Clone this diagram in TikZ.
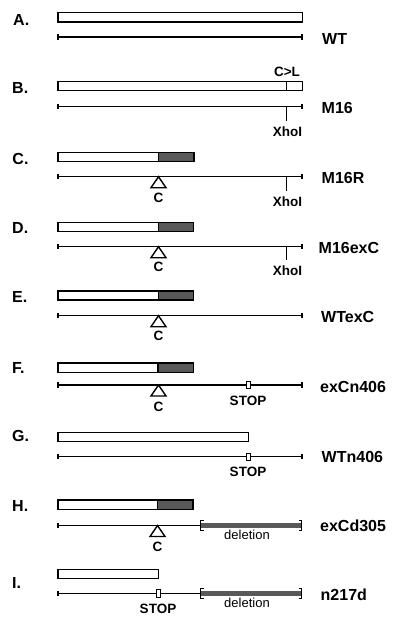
\documentclass[tikz,border=0pt]{standalone}
\usepackage{fontspec}
\setmainfont{Liberation Sans}
\begin{document}
\begin{tikzpicture}[x=1pt,y=-1pt,
  rowlab/.style={font=\bfseries\fontsize{16}{16}\selectfont,anchor=west,inner sep=0pt},
  namelab/.style={font=\bfseries\fontsize{16}{16}\selectfont,anchor=west,inner sep=0pt},
  smalllab/.style={font=\bfseries\fontsize{13.5}{13.5}\selectfont,inner sep=0pt},
  dellab/.style={font=\fontsize{13}{13}\selectfont,inner sep=0pt},
  boxline/.style={draw=black,line width=1.5pt},
  shade/.style={fill=black!65},
  seqline/.style={draw=black,line width=1.2pt},
  tri/.style={draw=black,line width=1.4pt,fill=white,line join=miter},
  stopbox/.style={draw=black,line width=1pt,fill=white},
  brk/.style={draw=black,line width=1.3pt}]
\useasboundingbox (0,0) rectangle (400,623);
\fill[white] (0,0) rectangle (400,623);

% ---------- A ----------
\node[rowlab] (la) at (13,20) {A.};
\draw[boxline,fill=white] (58,12.7) rectangle (302.3,22);
\draw[seqline] (58,37) -- (302,37);
\draw[seqline] (58,34.3) -- (58,39.7) (302,34.3) -- (302,39.7);
\node[namelab] (na) at (322,39) {WT};

% ---------- B ----------
\node[rowlab] (lb) at (12,88) {B.};
\node[smalllab] (cl) at (287,72) {C>L};
\draw[boxline,fill=white] (58,81.7) rectangle (302.3,90.7);
\draw[boxline] (286.7,81.7) -- (286.7,90.7);
\draw[seqline] (58,106.7) -- (302,106.7);
\draw[seqline] (58,104) -- (58,109.4) (302,104) -- (302,109.4);
\draw[seqline] (286.7,106.7) -- (286.7,120.7);
\node[smalllab] (xb) at (287.5,132) {XhoI};
\node[namelab] (nb) at (321.5,108.3) {M16};

% ---------- C ----------
\node[rowlab] (lc) at (12.3,159) {C.};
\fill[shade] (158.7,152.3) rectangle (194,161.3);
\draw[boxline] (58,152.3) rectangle (194,161.3);
\draw[boxline] (158.7,152.3) -- (158.7,161.3);
\draw[seqline] (58,176.7) -- (302,176.7);
\draw[seqline] (58,174) -- (58,179.4) (302,174) -- (302,179.4);
\draw[seqline] (286.7,176.7) -- (286.7,190.7);
\draw[tri] (158.5,176.7) -- (166,187.7) -- (151,187.7) -- cycle;
\node[smalllab] (cc) at (158.5,197.5) {C};
\node[smalllab] (xc) at (287.5,202) {XhoI};
\node[namelab] (nc) at (321.5,178) {M16R};

% ---------- D ----------
\node[rowlab] (ld) at (12,228) {D.};
\fill[shade] (158.5,222.7) rectangle (193.5,231.7);
\draw[boxline] (58,222.7) rectangle (193.5,231.7);
\draw[boxline] (158.5,222.7) -- (158.5,231.7);
\draw[seqline] (58,246.7) -- (302,246.7);
\draw[seqline] (58,244) -- (58,249.4) (302,244) -- (302,249.4);
\draw[seqline] (286.7,246.7) -- (286.7,260);
\draw[tri] (158.5,246.7) -- (166,257.7) -- (151,257.7) -- cycle;
\node[smalllab] (cd) at (158.5,267) {C};
\node[smalllab] (xd) at (287.5,271) {XhoI};
\node[namelab] (nd) at (318.5,248) {M16exC};

% ---------- E ----------
\node[rowlab] (le) at (12,297) {E.};
\fill[shade] (158.5,291) rectangle (193.5,300);
\draw[boxline] (58,291) rectangle (193.5,300);
\draw[boxline] (158.5,291) -- (158.5,300);
\draw[seqline] (58,315.7) -- (302,315.7);
\draw[seqline] (58,313) -- (58,318.4) (302,313) -- (302,318.4);
\draw[tri] (158.5,315.7) -- (166,326.7) -- (151,326.7) -- cycle;
\node[smalllab] (ce) at (158.5,336) {C};
\node[namelab] (ne) at (321,317) {WTexC};

% ---------- F ----------
\node[rowlab] (lf) at (12,368) {F.};
\fill[shade] (158,363) rectangle (193.3,372.3);
\draw[boxline] (58,363) rectangle (193.3,372.3);
\draw[boxline] (158,363) -- (158,372.3);
\draw[seqline] (58,385) -- (302,385);
\draw[seqline] (58,382.3) -- (58,387.7) (302,382.3) -- (302,387.7);
\draw[stopbox] (246,381.5) rectangle (250,388.5);
\node[smalllab] (sf) at (248,400.5) {STOP};
\draw[tri] (158.5,385) -- (166,396) -- (151,396) -- cycle;
\node[smalllab] (cf) at (158.5,406.5) {C};
\node[namelab] (nf) at (320,386.7) {exCn406};

% ---------- G ----------
\node[rowlab] (lg) at (12,436) {G.};
\draw[boxline,fill=white] (58,432.3) rectangle (248.3,441.7);
\draw[seqline] (58,456.7) -- (302,456.7);
\draw[seqline] (58,454) -- (58,459.4) (302,454) -- (302,459.4);
\draw[stopbox] (246,453) rectangle (250,460.2);
\node[smalllab] (sg) at (248,471.5) {STOP};
\node[namelab] (ng) at (321.5,456.7) {WTn406};

% ---------- H ----------
\node[rowlab] (lh) at (12,505.7) {H.};
\fill[shade] (157.5,500) rectangle (193,509.3);
\draw[boxline] (58,500) rectangle (193,509.3);
\draw[boxline] (157.5,500) -- (157.5,509.3);
\draw[seqline] (58,525.5) -- (200.7,525.5);
\draw[seqline] (58,522.8) -- (58,528.2);
\fill[shade] (200.7,523) rectangle (301.7,528);
\draw[brk] (203.7,520.5) -- (200.7,520.5) -- (200.7,530.5) -- (203.7,530.5);
\draw[brk] (298.7,520.5) -- (301.7,520.5) -- (301.7,530.5) -- (298.7,530.5);
\node[dellab] (dh) at (247,534.5) {deletion};
\draw[tri] (157.5,525.5) -- (165,536.5) -- (150,536.5) -- cycle;
\node[smalllab] (ch) at (157.5,546.5) {C};
\node[namelab] (nh) at (320,525.7) {exCd305};

% ---------- I ----------
\node[rowlab] (li) at (12,583.3) {I.};
\draw[boxline,fill=white] (58,569.3) rectangle (158.3,578.7);
\draw[seqline] (58,593.3) -- (200.7,593.3);
\draw[seqline] (58,590.6) -- (58,596);
\draw[stopbox] (156,589.7) rectangle (160,597);
\node[smalllab] (si) at (158,608.5) {STOP};
\fill[shade] (200.7,590.8) rectangle (301.7,595.8);
\draw[brk] (203.7,588.3) -- (200.7,588.3) -- (200.7,598.3) -- (203.7,598.3);
\draw[brk] (298.7,588.3) -- (301.7,588.3) -- (301.7,598.3) -- (298.7,598.3);
\node[dellab] (di) at (247,603) {deletion};
\node[namelab] (ni) at (320.5,595) {n217d};
\end{tikzpicture}
\end{document}
